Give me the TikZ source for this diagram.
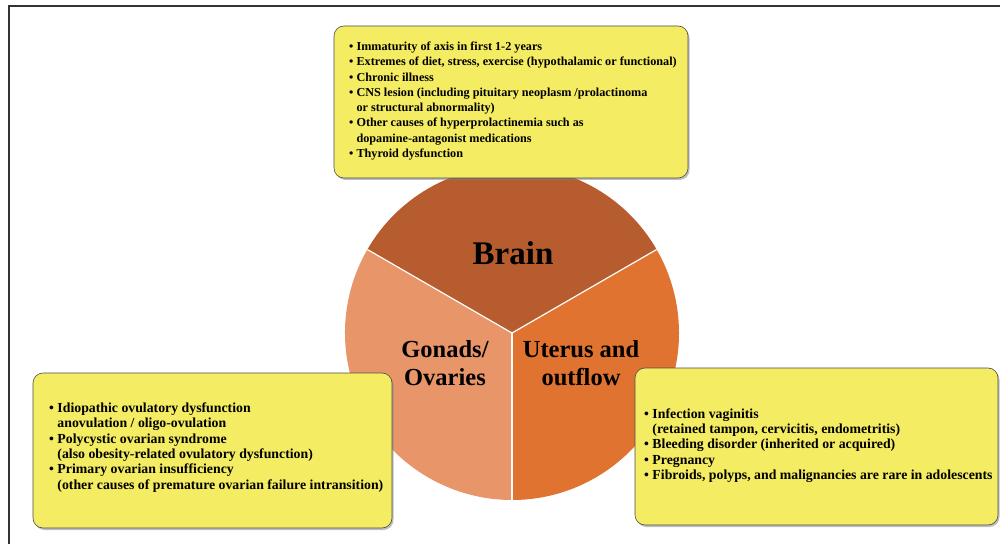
\documentclass[tikz,border=0pt]{standalone}
\usepackage{fontspec}
\setmainfont{Liberation Serif}
\usetikzlibrary{shadows}
\definecolor{brainc}{HTML}{B65C2E}
\definecolor{gonadc}{HTML}{E8956A}
\definecolor{uterusc}{HTML}{DF732F}
\definecolor{boxy}{HTML}{F4EC62}
\definecolor{framec}{HTML}{333333}
\tikzset{
  infobox/.style={fill=boxy, draw=gray!60!black, line width=0.6pt, rounded corners=10pt,
    drop shadow={shadow xshift=1.5pt, shadow yshift=-2pt, opacity=0.5, fill=gray}},
  boxtext/.style={anchor=west, inner sep=0pt, align=left,
    font=\bfseries\fontsize{12.2}{15.3}\selectfont},
  bigboxtext/.style={boxtext, font=\bfseries\fontsize{13.8}{15.3}\selectfont},
  slicesep/.style={draw=white, line width=1.2pt},
  biglabel/.style={align=center, inner sep=0pt, font=\bfseries\fontsize{24.5}{28}\selectfont}
}
\newcommand{\hang}{\hphantom{\textbullet\ }}
\begin{document}
\begin{tikzpicture}[x=1pt,y=1pt]
\useasboundingbox (0,0) rectangle (1000,544);
% frame
\draw[framec, line width=1.5pt] (9,0) -- (9,538) -- (1000,538);
% pie
\coordinate (c) at (512,211);
\fill[uterusc] (c) -- ([shift={(-90:167)}]c) arc[start angle=-90, end angle=30, radius=167] -- cycle;
\fill[brainc] (c) -- ([shift={(30:167)}]c) arc[start angle=30, end angle=150, radius=167] -- cycle;
\fill[gonadc] (c) -- ([shift={(150:167)}]c) arc[start angle=150, end angle=270, radius=167] -- cycle;
\draw[slicesep] (c) -- ([shift={(30:167)}]c);
\draw[slicesep] (c) -- ([shift={(150:167)}]c);
\draw[slicesep] (c) -- ([shift={(270:167)}]c);
\node[biglabel, font=\bfseries\fontsize{33}{36}\selectfont] (brain) at (513,291) {Brain};
\node[biglabel] (gonads) at (445,181) {Gonads/\\Ovaries};
\node[biglabel] (uterus) at (581,181) {Uterus and\\outflow};
% boxes
\path[infobox] (334,366) rectangle (688,518);
\path[infobox] (33,16) rectangle (392,171);
\path[infobox] (635,19) rectangle (998,176);
\node[boxtext] (toptext) at (349,443) {%
\textbullet\ Immaturity of axis in first 1-2 years\\
\textbullet\ Extremes of diet, stress, exercise (hypothalamic or functional)\\
\textbullet\ Chronic illness\\
\textbullet\ CNS lesion (including pituitary neoplasm /prolactinoma\\
\hang or structural abnormality)\\
\textbullet\ Other causes of hyperprolactinemia such as\\
\hang dopamine-antagonist medications\\
\textbullet\ Thyroid dysfunction};
\node[bigboxtext] (lefttext) at (49,96.5) {%
\textbullet\ Idiopathic ovulatory dysfunction\\
\hang anovulation / oligo-ovulation\\
\textbullet\ Polycystic ovarian syndrome\\
\hang (also obesity-related ovulatory dysfunction)\\
\textbullet\ Primary ovarian insufficiency\\
\hang (other causes of premature ovarian failure intransition)};
\node[bigboxtext] (righttext) at (644,98.5) {%
\textbullet\ Infection vaginitis\\
\hang (retained tampon, cervicitis, endometritis)\\
\textbullet\ Bleeding disorder (inherited or acquired)\\
\textbullet\ Pregnancy\\
\textbullet\ Fibroids, polyps, and malignancies are rare in adolescents};
\end{tikzpicture}
\end{document}
